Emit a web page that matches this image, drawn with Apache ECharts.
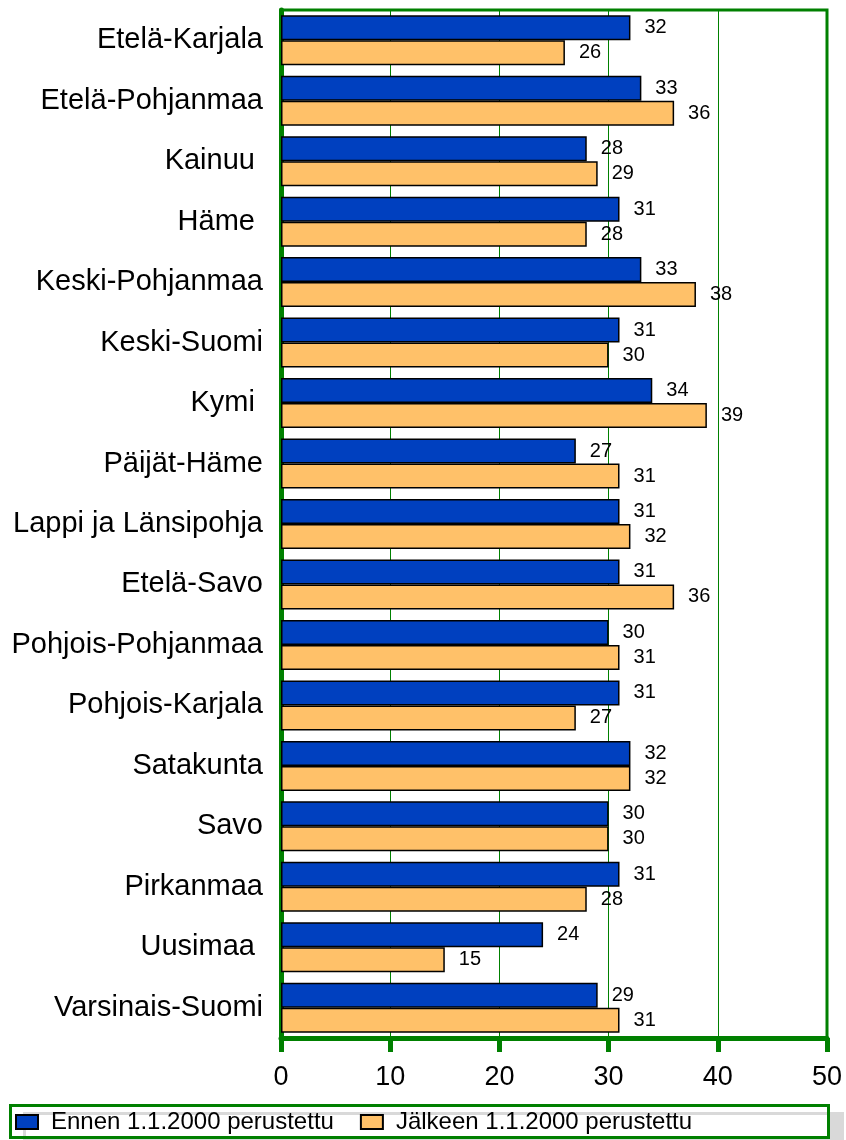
<!DOCTYPE html>
<html>
<head>
<meta charset="utf-8">
<script src="https://cdn.jsdelivr.net/npm/echarts@6/dist/echarts.min.js"></script>
<style>
  html, body { margin: 0; padding: 0; background: #fff; }
  #chart { width: 846px; height: 1140px; }
</style>
</head>
<body>
<div id="chart"></div>
<script>
// Regions (top to bottom)
const regions = [
  'Etelä-Karjala', 'Etelä-Pohjanmaa', 'Kainuu ', 'Häme ', 'Keski-Pohjanmaa',
  'Keski-Suomi', 'Kymi ', 'Päijät-Häme', 'Lappi ja Länsipohja', 'Etelä-Savo',
  'Pohjois-Pohjanmaa', 'Pohjois-Karjala', 'Satakunta', 'Savo', 'Pirkanmaa',
  'Uusimaa ', 'Varsinais-Suomi'
];
const seriesNames = ['Ennen 1.1.2000 perustettu', 'Jälkeen 1.1.2000 perustettu'];
const beforeValues = [32, 33, 28, 31, 33, 31, 34, 27, 31, 31, 30, 31, 32, 30, 31, 24, 29];
const afterValues  = [26, 36, 29, 28, 38, 30, 39, 31, 32, 36, 31, 27, 32, 30, 28, 15, 31];
const xTicks = [0, 10, 20, 30, 40, 50];

const GREEN = '#008000';
const FONT = '"Liberation Sans", Arial, sans-serif';

const chart = echarts.init(document.getElementById('chart'), null, { renderer: 'canvas' });

const barStyle = (color) => ({
  color: color,
  borderColor: '#000',
  borderWidth: 1.5
});

const labelStyle = {
  show: true,
  position: 'right',
  distance: 14,
  fontFamily: FONT,
  fontSize: 20,
  color: '#000'
};

chart.setOption({
  animation: false,
  backgroundColor: '#fff',
  textStyle: { fontFamily: FONT },
  grid: {
    left: 281, right: 19, top: 10, bottom: 102,
    show: true,
    borderColor: GREEN,
    borderWidth: 3,
    backgroundColor: '#fff'
  },
  xAxis: {
    type: 'value',
    min: xTicks[0],
    max: xTicks[xTicks.length - 1],
    interval: 10,
    axisLine: { show: true, lineStyle: { color: GREEN, width: 5 } },
    axisTick: { show: true, length: 14, lineStyle: { color: GREEN, width: 5 } },
    axisLabel: { fontFamily: FONT, fontSize: 27, color: '#000', margin: 26 },
    splitLine: { show: true, lineStyle: { color: GREEN, width: 1 } }
  },
  yAxis: {
    type: 'category',
    data: regions,
    inverse: true,
    axisLine: { show: true, lineStyle: { color: GREEN, width: 5 } },
    axisTick: { show: false },
    axisLabel: { fontFamily: FONT, fontSize: 29, color: '#000', margin: 18 }
  },
  legend: {
    left: 15,
    top: 1110,
    z: 10,
    padding: 0,
    itemWidth: 22,
    itemHeight: 14,
    itemGap: 26,
    icon: 'rect',
    textStyle: { fontFamily: FONT, fontSize: 24, color: '#000', padding: [0, 0, 0, 8] },
    data: seriesNames
  },
  graphic: [
    {
      type: 'rect',
      z: 1,
      shape: { x: 10.5, y: 1105.5, width: 818, height: 32 },
      style: {
        fill: '#fff',
        stroke: GREEN,
        lineWidth: 3,
        shadowColor: '#d9d9d9',
        shadowOffsetX: 14,
        shadowOffsetY: 8,
        shadowBlur: 0
      }
    }
  ],
  series: [
    {
      name: seriesNames[0],
      type: 'bar',
      data: beforeValues,
      barWidth: 25,
      barGap: '0%',
      itemStyle: barStyle('#0040BF'),
      label: labelStyle
    },
    {
      name: seriesNames[1],
      type: 'bar',
      data: afterValues,
      barWidth: 25,
      barGap: '0%',
      itemStyle: barStyle('#FFC169'),
      label: labelStyle
    }
  ]
});
</script>
</body>
</html>
